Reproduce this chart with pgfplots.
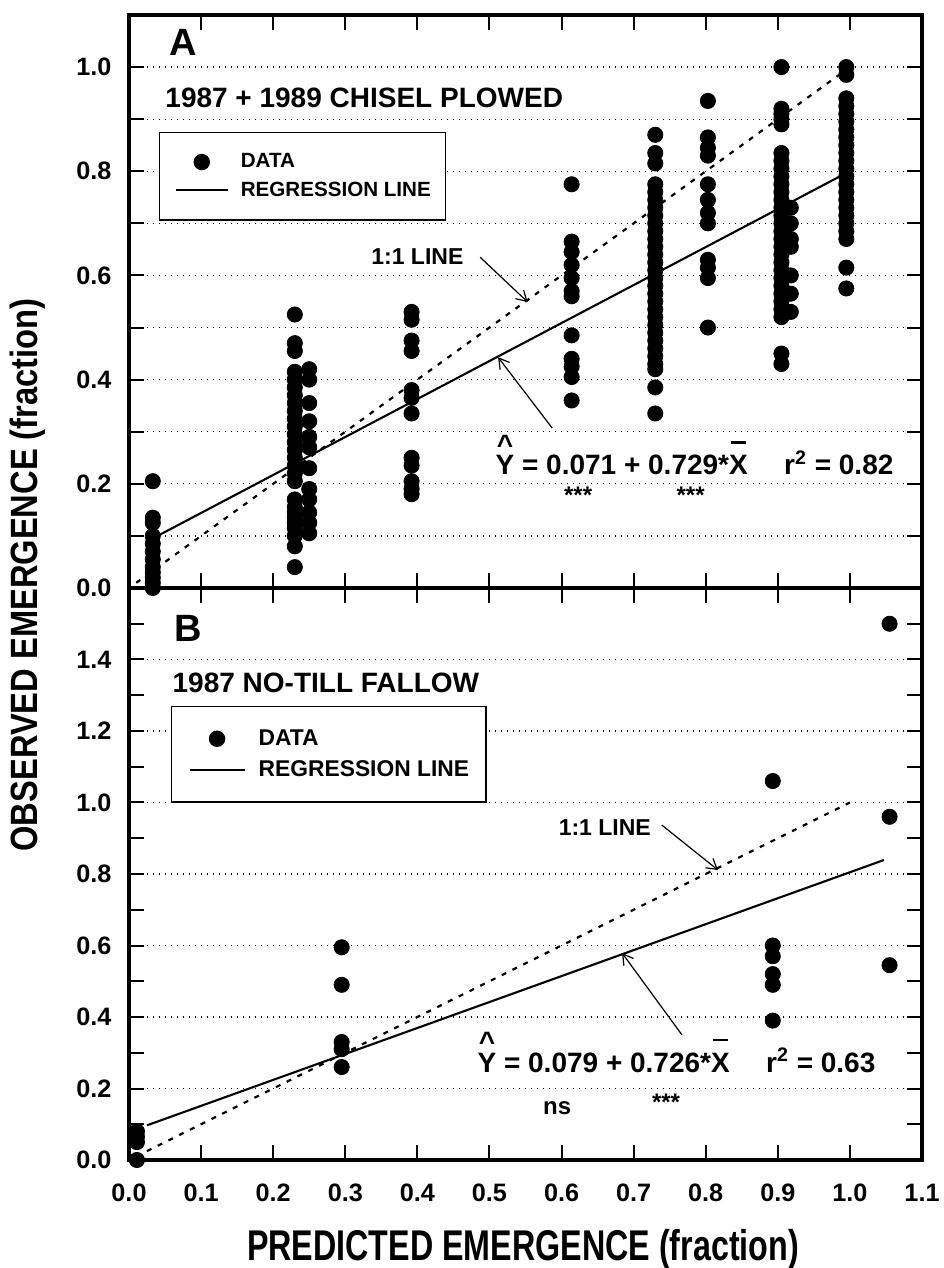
\documentclass[border=0pt]{standalone}
\usepackage{fontspec}
\setmainfont{Liberation Sans}
\newfontfamily\narrowfont[FakeStretch=0.75]{Liberation Sans}
\newfontfamily\semifont[FakeStretch=0.86]{Liberation Sans}
\usepackage{pgfplots}
\pgfplotsset{compat=1.18}
\usetikzlibrary{arrows.meta}

\newcommand\hatY{\ooalign{Y\cr\hidewidth\raisebox{0.74em}{\textasciicircum}\hidewidth\cr}}
\newcommand\barX{\ooalign{X\cr\hidewidth\raisebox{1.12em}{\rule{0.55em}{0.08em}}\hidewidth\cr}}
\newcommand\fs[1]{\fontsize{#1}{1.2\dimexpr#1pt\relax}\selectfont\bfseries}

\tikzset{arr/.style={line width=0.6pt, -{Straight Barb[length=5pt,width=6pt]}}}

\pgfplotsset{
  emerg/.style={
    scale only axis, width=396.5pt,
    xmin=0, xmax=1.1,
    xtick={0,0.1,0.2,0.3,0.4,0.5,0.6,0.7,0.8,0.9,1.0,1.1},
    tick align=inside, xtick pos=both, ytick pos=both,
    major tick length=7.5pt, minor tick length=7.5pt,
    every tick/.style={black, line width=1pt},
    axis line style={line width=1.6pt},
    ymajorgrids,
    grid style={black, line width=0.6pt, dash pattern=on 0.6pt off 2.4pt},
    ticklabel style={font=\fs{12.6}},
    yticklabel style={xshift=-5.3pt},
    xticklabel style={yshift=-8.3pt},
    /pgf/number format/assume math mode=true,
    /pgf/number format/fixed,
    /pgf/number format/fixed zerofill,
    /pgf/number format/precision=1,
    legend cell align=left,
  },
  dots/.style={only marks, mark=*, mark size=3.8pt, black,
    legend image code/.code={\draw[##1] plot coordinates {(13pt,0pt)}; \path (0pt,0pt) (26pt,0pt);}},
  dotsB/.style={only marks, mark=*, mark size=3.8pt, black,
    legend image code/.code={\draw[##1] plot coordinates {(13.7pt,0pt)}; \path (0pt,0pt) (27.5pt,0pt);}},
  regline/.style={black, line width=1.05pt,
    legend image code/.code={\draw[##1] (0pt,0pt) -- (26pt,0pt);}},
  reglineB/.style={black, line width=1.05pt,
    legend image code/.code={\draw[##1] (0pt,0pt) -- (27.5pt,0pt);}},
  oneline/.style={black, line width=1.1pt, dash pattern=on 2.5pt off 3.5pt, forget plot},
}

\begin{document}
\begin{tikzpicture}
\path[use as bounding box] (-64.5pt,-54pt) rectangle (407pt,580pt);

% ---------- panel A ----------
\begin{axis}[emerg, at={(0pt,286pt)}, anchor=south west, height=286.5pt,
  ymin=0, ymax=1.1,
  ytick={0,0.2,0.4,0.6,0.8,1.0}, minor ytick={0.1,0.3,0.5,0.7,0.9},
  yminorgrids, minor grid style={black, line width=0.6pt, dash pattern=on 0.6pt off 2.4pt},
  xticklabels={},
  legend style={at={(0.038,0.796)}, anchor=north west, draw=black, line width=0.6pt,
    font=\fs{10.3}, inner xsep=7.5pt, inner ysep=10.5pt, row sep=5.5pt, column sep=6pt,
    nodes={inner sep=0pt}},
]
\addplot[dots] coordinates {
 (0.033,0.205)(0.033,0.135)(0.033,0.125)(0.033,0.10)(0.033,0.085)(0.033,0.07)
 (0.033,0.055)(0.033,0.04)(0.033,0.03)(0.033,0.02)(0.033,0.01)(0.033,0.0)
 (0.23,0.525)(0.23,0.47)(0.23,0.455)(0.23,0.415)(0.23,0.40)(0.23,0.385)(0.23,0.37)
 (0.23,0.355)(0.23,0.34)(0.23,0.325)(0.23,0.31)(0.23,0.295)(0.23,0.28)(0.23,0.265)
 (0.23,0.25)(0.23,0.235)(0.23,0.22)(0.23,0.205)(0.23,0.17)(0.23,0.155)(0.23,0.145)
 (0.23,0.135)(0.23,0.125)(0.23,0.115)(0.23,0.10)(0.23,0.08)(0.23,0.04)
 (0.25,0.42)(0.25,0.40)(0.25,0.355)(0.25,0.32)(0.25,0.29)(0.25,0.27)(0.25,0.23)
 (0.25,0.19)(0.25,0.17)(0.25,0.145)(0.25,0.125)(0.25,0.105)
 (0.392,0.53)(0.392,0.515)(0.392,0.475)(0.392,0.455)(0.392,0.38)(0.392,0.365)
 (0.392,0.335)(0.392,0.25)(0.392,0.235)(0.392,0.205)(0.392,0.19)(0.392,0.18)
 (0.614,0.775)(0.614,0.665)(0.614,0.645)(0.614,0.62)(0.614,0.595)(0.614,0.57)
 (0.614,0.56)(0.614,0.485)(0.614,0.44)(0.614,0.425)(0.614,0.405)(0.614,0.36)
 (0.73,0.87)(0.73,0.835)(0.73,0.815)(0.73,0.775)(0.73,0.76)(0.73,0.745)(0.73,0.73)
 (0.73,0.715)(0.73,0.70)(0.73,0.685)(0.73,0.67)(0.73,0.655)(0.73,0.64)(0.73,0.625)
 (0.73,0.61)(0.73,0.595)(0.73,0.58)(0.73,0.565)(0.73,0.55)(0.73,0.535)(0.73,0.52)
 (0.73,0.505)(0.73,0.49)(0.73,0.475)(0.73,0.46)(0.73,0.445)(0.73,0.43)(0.73,0.42)
 (0.73,0.385)(0.73,0.335)
 (0.803,0.935)(0.803,0.865)(0.803,0.845)(0.803,0.83)(0.803,0.775)(0.803,0.745)
 (0.803,0.72)(0.803,0.70)(0.803,0.63)(0.803,0.615)(0.803,0.595)(0.803,0.50)
 (0.905,1.0)(0.905,0.92)(0.905,0.91)(0.905,0.90)(0.905,0.89)(0.905,0.835)(0.905,0.82)
 (0.905,0.805)(0.905,0.79)(0.905,0.775)(0.905,0.76)(0.905,0.745)(0.905,0.73)
 (0.905,0.715)(0.905,0.70)(0.905,0.685)(0.905,0.67)(0.905,0.655)(0.905,0.64)
 (0.905,0.625)(0.905,0.61)(0.905,0.595)(0.905,0.58)(0.905,0.565)(0.905,0.55)
 (0.905,0.535)(0.905,0.52)(0.905,0.45)(0.905,0.43)
 (0.918,0.73)(0.918,0.70)(0.918,0.67)(0.918,0.655)(0.918,0.60)(0.918,0.565)(0.918,0.53)
 (0.995,1.0)(0.995,0.985)(0.995,0.94)(0.995,0.925)(0.995,0.91)(0.995,0.895)(0.995,0.88)
 (0.995,0.865)(0.995,0.85)(0.995,0.835)(0.995,0.82)(0.995,0.805)(0.995,0.79)
 (0.995,0.775)(0.995,0.76)(0.995,0.745)(0.995,0.73)(0.995,0.715)(0.995,0.70)
 (0.995,0.685)(0.995,0.67)(0.995,0.615)(0.995,0.575)
};
\addlegendentry{DATA}
\addplot[regline] coordinates {(0.03,0.093)(0.99,0.793)};
\addlegendentry{REGRESSION LINE}
\addplot[oneline] coordinates {(0.01,0.01)(0.988,0.988)};

\node[font=\fs{19}, inner sep=0] at (axis cs:0.075,1.048) {A};
\node[font=\fs{14}, inner sep=0, anchor=west] at (axis cs:0.05,0.94) {1987 + 1989 CHISEL PLOWED};
\node[font=\fs{11.5}, inner sep=0] at (axis cs:0.40,0.637) {1:1 LINE};
\draw[arr] (axis cs:0.487,0.635) -- (axis cs:0.553,0.549);
\draw[arr] (axis cs:0.587,0.307) -- (axis cs:0.512,0.443);
\node[font=\fs{14}, inner sep=0, anchor=base west] at (axis cs:0.508,0.217)
  {\hatY{} = 0.071 + 0.729*\barX\hspace{1.3em}r\textsuperscript{2} = 0.82};
\node[font=\fs{12}, inner sep=0, anchor=north] at (axis cs:0.623,0.194) {***};
\node[font=\fs{12}, inner sep=0, anchor=north] at (axis cs:0.779,0.194) {***};
\end{axis}

% ---------- panel B ----------
\begin{axis}[emerg, at={(0pt,0pt)}, anchor=south west, height=286pt,
  ymin=0, ymax=1.6,
  ytick={0,0.2,0.4,0.6,0.8,1.0,1.2,1.4}, minor ytick={0.1,0.3,0.5,0.7,0.9,1.1,1.3,1.5},
  legend style={at={(0.053,0.794)}, anchor=north west, draw=black, line width=0.6pt,
    font=\fs{11.4}, inner xsep=8.5pt, inner ysep=11.5pt, row sep=6pt, column sep=6.5pt,
    nodes={inner sep=0pt}},
]
\addplot[dotsB] coordinates {
 (0.011,0.0)(0.011,0.05)(0.011,0.065)(0.011,0.08)
 (0.295,0.595)(0.295,0.49)(0.295,0.33)(0.295,0.31)(0.295,0.26)
 (0.893,1.06)(0.893,0.60)(0.893,0.57)(0.893,0.52)(0.893,0.49)(0.893,0.39)
 (1.055,1.5)(1.055,0.96)(1.055,0.545)
};
\addlegendentry{DATA}
\addplot[reglineB] coordinates {(0.025,0.097)(1.047,0.839)};
\addlegendentry{REGRESSION LINE}
\addplot[oneline] coordinates {(0.01,0.01)(1.0,1.0)};

\node[font=\fs{19}, inner sep=0] at (axis cs:0.082,1.488) {B};
\node[font=\fs{14}, inner sep=0, anchor=west] at (axis cs:0.06,1.334) {1987 NO-TILL FALLOW};
\node[font=\fs{11.5}, inner sep=0] at (axis cs:0.66,0.929) {1:1 LINE};
\draw[arr] (axis cs:0.739,0.937) -- (axis cs:0.817,0.811);
\draw[arr] (axis cs:0.767,0.35) -- (axis cs:0.684,0.579);
\node[font=\fs{14}, inner sep=0, anchor=base west] at (axis cs:0.483,0.245)
  {\hatY{} = 0.079 + 0.726*\barX\hspace{1.3em}r\textsuperscript{2} = 0.63};
\node[font=\fs{12}, inner sep=0] at (axis cs:0.594,0.145) {ns};
\node[font=\fs{12}, inner sep=0, anchor=north] at (axis cs:0.745,0.187) {***};
\end{axis}

\node[rotate=90, font=\semifont\fs{19}] at (-50.5pt,292.5pt) {OBSERVED EMERGENCE (fraction)};
\node[anchor=base, font=\narrowfont\fs{21.5}] at (197pt,-50pt) {PREDICTED EMERGENCE (fraction)};
\end{tikzpicture}
\end{document}
